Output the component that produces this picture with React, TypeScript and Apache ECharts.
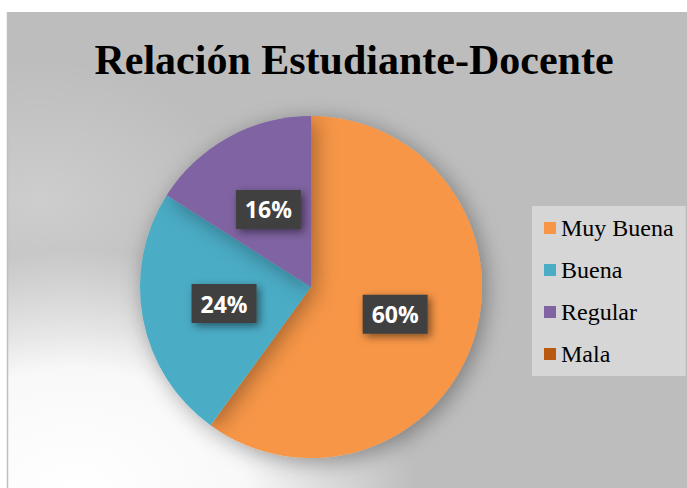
import React, { useEffect, useRef } from "react";
import * as echarts from "echarts";

const titleText = "Relación Estudiante-Docente";
const categories = ["Muy Buena", "Buena", "Regular", "Mala"];
const values = [60, 24, 16, 0];
const colors = ["#f79646", "#4bacc6", "#8064a2", "#b9590f"];

export default function App() {
  const ref = useRef<HTMLDivElement>(null);
  useEffect(() => {
    document.body.style.margin = "0";
    const chart = echarts.init(ref.current!, null, { renderer: "svg" });
    const data = categories.map((name, i) => ({
      name,
      value: values[i],
      itemStyle: { color: colors[i] },
      label: { show: values[i] > 0 },
    }));
    chart.setOption({
      animation: false,
      graphic: [
        {
          type: "rect",
          z: -10,
          shape: { x: 7, y: 12, width: 680, height: 476 },
          style: { fill: "#bdbdbd" },
          silent: true,
        },
        {
          type: "rect",
          z: -9,
          shape: { x: 7, y: 12, width: 680, height: 476 },
          style: {
            fill: new echarts.graphic.RadialGradient(0.1, 1.0, 0.5, [
              { offset: 0, color: "rgba(255,255,255,1)" },
              { offset: 0.5, color: "rgba(255,255,255,0.9)" },
              { offset: 1, color: "rgba(255,255,255,0)" },
            ]),
          },
          silent: true,
        },
        {
          type: "rect",
          z: -9,
          shape: { x: 7, y: 12, width: 680, height: 476 },
          style: {
            fill: new echarts.graphic.RadialGradient(0.05, 0.4, 0.3, [
              { offset: 0, color: "rgba(255,255,255,0.25)" },
              { offset: 1, color: "rgba(255,255,255,0)" },
            ]),
          },
          silent: true,
        },
        {
          type: "line",
          z: -8,
          shape: { x1: 7.5, y1: 12, x2: 7.5, y2: 488 },
          style: { stroke: "#bfbfbf", lineWidth: 1.5 },
          silent: true,
        },
        {
          type: "text",
          x: 354,
          y: 60,
          style: {
            text: titleText,
            font: 'bold 42px "Liberation Serif", "Times New Roman", serif',
            fill: "#000",
            align: "center",
            verticalAlign: "middle",
          },
        },
      ],
      legend: {
        orient: "vertical",
        left: 532,
        top: 206,
        data: categories,
        icon: "rect",
        itemWidth: 12,
        itemHeight: 12,
        itemGap: 18,
        padding: [10, 12, 10, 12],
        backgroundColor: "#d6d6d6",
        textStyle: {
          fontFamily: '"Liberation Serif", "Times New Roman", serif',
          fontSize: 24,
          lineHeight: 24,
          color: "#000",
        },
        itemStyle: { borderWidth: 0 },
      },
      series: [
        {
          type: "pie",
          center: [311, 287],
          radius: [0, 171],
          startAngle: 90,
          clockwise: true,
          percentPrecision: 0,
          data,
          itemStyle: {
            shadowBlur: 22,
            shadowColor: "rgba(0,0,0,0.35)",
            shadowOffsetX: 4,
            shadowOffsetY: 4,
          },
          label: {
            show: true,
            position: "inside",
            formatter: "{d}%",
            fontFamily: '"Open Sans", "Noto Sans", sans-serif',
            fontWeight: "bold",
            fontSize: 23,
            color: "#fff",
            backgroundColor: "#404040",
            padding: [9, 9, 7, 9],
            shadowBlur: 8,
            shadowColor: "rgba(0,0,0,0.5)",
            shadowOffsetX: 3,
            shadowOffsetY: 3,
          },
          labelLine: { show: false },
          emphasis: { disabled: true },
        },
      ],
    });
    return () => chart.dispose();
  }, []);
  return <div ref={ref} style={{ width: 687, height: 488 }} />;
}
